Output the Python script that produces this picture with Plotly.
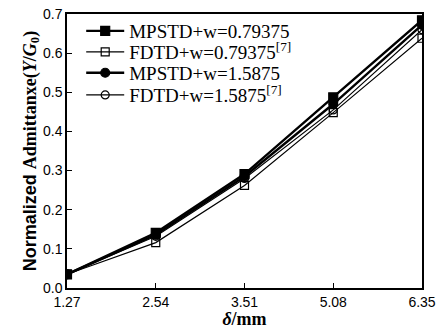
import plotly.graph_objects as go

categories = ["1.27", "2.54", "3.51", "5.08", "6.35"]
mpstd_079 = [0.035, 0.141, 0.291, 0.487, 0.684]
fdtd_079 = [0.035, 0.116, 0.262, 0.448, 0.638]
mpstd_159 = [0.035, 0.136, 0.285, 0.470, 0.672]
fdtd_159 = [0.035, 0.132, 0.280, 0.455, 0.660]
names = ["MPSTD+w=0.79375", "FDTD+w=0.79375<sup>[7]</sup>",
         "MPSTD+w=1.5875", "FDTD+w=1.5875<sup>[7]</sup>"]

fig = go.Figure()
styles = [
    (mpstd_079, "square", 2.4, 9),
    (fdtd_079, "square-open", 1.2, 8),
    (mpstd_159, "circle", 2.4, 9),
    (fdtd_159, "circle-open", 1.2, 8),
]
legend_ids = ["legend", "legend2", "legend3", "legend4"]
legend_y = [0.938, 0.861, 0.785, 0.704]
for (vals, sym, lw, ms), nm, lid in zip(styles, names, legend_ids):
    fig.add_trace(go.Scatter(
        x=categories, y=vals, name=nm, mode="lines+markers",
        legend=lid,
        line=dict(color="black", width=lw),
        marker=dict(symbol=sym, size=ms, color="black",
                    line=dict(color="black", width=1.2)),
    ))

layout_legends = {}
for lid, ly in zip(legend_ids, legend_y):
    layout_legends[lid] = dict(
        x=0.04, y=ly, xanchor="left", yanchor="middle",
        bgcolor="rgba(0,0,0,0)", borderwidth=0,
        font=dict(family="Liberation Serif", size=19, color="black"),
        itemwidth=38,
    )

fig.update_layout(
    width=436, height=329,
    margin=dict(l=67, r=14, t=14, b=41),
    paper_bgcolor="white", plot_bgcolor="white",
    showlegend=True,
    **layout_legends,
)
fig.update_xaxes(
    type="category", categoryorder="array", categoryarray=categories,
    range=[0, 4], automargin=False,
    showline=True, linecolor="black", linewidth=1.5, mirror=True,
    ticks="inside", ticklen=5, tickcolor="black",
    showgrid=False, zeroline=False,
    tickfont=dict(family="Liberation Sans", size=14, color="black"),
    title=dict(text="<b><i>δ</i>/mm</b>", standoff=0,
               font=dict(family="Liberation Serif", size=18, color="black")),
)
fig.update_yaxes(
    range=[0, 0.7], dtick=0.1, tickformat=".1f", automargin=False,
    showline=True, linecolor="black", linewidth=1.5, mirror=True,
    ticks="inside", ticklen=5, tickcolor="black",
    showgrid=False, zeroline=False,
    tickfont=dict(family="Liberation Sans", size=14, color="black"),
    title=dict(text="<b>Normalized </b><span style=\"font-family:'Liberation Serif'\"><b>Admittanxe(<i>Y</i>/<i>G</i><sub>0</sub>)</b></span>",
               standoff=2,
               font=dict(family="Liberation Sans", size=18, color="black")),
)
fig.write_html("out.html", config={"displayModeBar": False},
               post_script="document.body.style.margin='0';document.body.style.overflow='hidden';")
